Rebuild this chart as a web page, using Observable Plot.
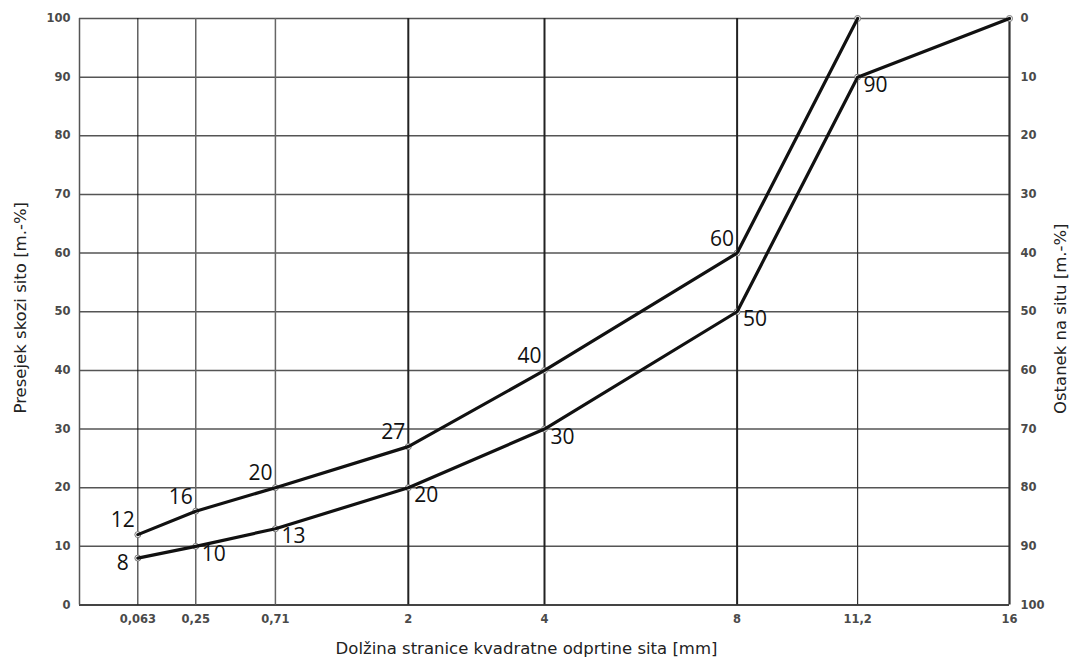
<!DOCTYPE html>
<html><head><meta charset="utf-8">
<script src="https://cdn.jsdelivr.net/npm/d3@7"></script>
<script src="https://cdn.jsdelivr.net/npm/@observablehq/plot@0.6"></script>
<style>body{margin:0;background:#fff}</style>
</head><body><div id="chart"></div>
<script>
// ---- data ----
const sieveSizes = [0.063, 0.25, 0.71, 2, 4, 8, 11.2, 16];
const sieveLabels = ["0,063", "0,25", "0,71", "2", "4", "8", "11,2", "16"];
const upperPassing = [12, 16, 20, 27, 40, 60, 100, 100];
const lowerPassing = [8, 10, 13, 20, 30, 50, 90, 100];
const percentTicks = [0, 10, 20, 30, 40, 50, 60, 70, 80, 90, 100];
const xTitle = "Dolžina stranice kvadratne odprtine sita [mm]";
const yTitleLeft = "Presejek skozi sito [m.-%]";
const yTitleRight = "Ostanek na situ [m.-%]";

// ---- styles ----
const gridWidth = [1, 1.5, 1.5, 2, 2, 2, 1.2, 2.2];
const gridColor = ["#111", "#666", "#666", "#222", "#222", "#222", "#333", "#333"];
const tickFont = {fontSize: 11.5, fontWeight: "bold", color: "#4a4a4a"};

const rows = sieveSizes.map((size, i) => ({size, i, upper: upperPassing[i], lower: lowerPassing[i]}));
// the upper curve stops where it first reaches 100 %
const upperCurve = rows.filter(d => d.i === 0 || upperPassing[d.i - 1] < 100);
const upperLabeled = rows.filter(d => d.upper < 100);
const lowerLabeled = rows.filter(d => d.lower < 100);

const chart = Plot.plot({
  width: 1070,
  height: 658,
  marginLeft: 79,
  marginRight: 61,
  marginTop: 18,
  marginBottom: 53.5,
  style: {fontFamily: "DejaVu Sans", background: "white"},
  x: {type: "sqrt", domain: [0, 16]},
  y: {domain: [0, 100]},
  color: {type: "identity"},
  marks: [
    Plot.ruleY(percentTicks, {stroke: "#555", strokeWidth: 1.5}),
    Plot.ruleY([0], {stroke: "#444", strokeWidth: 2}),
    Plot.ruleX([0], {stroke: "#555", strokeWidth: 1.5}),
    Plot.ruleX(rows, {x: "size", stroke: d => gridColor[d.i], strokeWidth: d => gridWidth[d.i]}),
    Plot.axisY(percentTicks, {anchor: "left", tickSize: 0, tickPadding: 9, label: null, ...tickFont}),
    Plot.axisY(percentTicks, {anchor: "right", tickSize: 0, tickPadding: 11, label: null, tickFormat: d => String(100 - d), ...tickFont}),
    Plot.axisX(sieveSizes, {anchor: "bottom", tickSize: 0, tickPadding: 10, label: null, tickFormat: d => sieveLabels[sieveSizes.indexOf(d)], ...tickFont}),
    Plot.dot(upperCurve, {x: "size", y: "upper", r: 3, fill: "white", stroke: "#777", strokeWidth: 1}),
    Plot.dot(rows, {x: "size", y: "lower", r: 3, fill: "white", stroke: "#777", strokeWidth: 1}),
    Plot.line(upperCurve, {x: "size", y: "upper", stroke: "#111", strokeWidth: 3.2, strokeLinejoin: "round"}),
    Plot.line(rows, {x: "size", y: "lower", stroke: "#111", strokeWidth: 3.2, strokeLinejoin: "round"}),
    Plot.text(upperLabeled, {x: "size", y: "upper", text: d => String(d.upper), textAnchor: "end", lineAnchor: "middle", dx: -3, dy: -14, fontSize: 21, fill: "#111", fontFamily: "Open Sans"}),
    Plot.text(lowerLabeled, {filter: d => d.i === 0, x: "size", y: "lower", text: d => String(d.lower), textAnchor: "end", lineAnchor: "middle", dx: -9, dy: 5, fontSize: 21, fill: "#111", fontFamily: "Open Sans"}),
    Plot.text(lowerLabeled, {filter: d => d.i > 0, x: "size", y: "lower", text: d => String(d.lower), textAnchor: "start", lineAnchor: "middle", dx: 6, dy: 8, fontSize: 21, fill: "#111", fontFamily: "Open Sans"}),
    Plot.text([xTitle], {frameAnchor: "bottom", text: d => d, textAnchor: "middle", lineAnchor: "middle", dx: -18, dy: 44, fontSize: 16.5, fill: "#222"}),
    Plot.text([yTitleLeft], {frameAnchor: "left", text: d => d, textAnchor: "middle", rotate: -90, lineAnchor: "middle", dx: -59, dy: -4, fontSize: 16.5, fill: "#222"}),
    Plot.text([yTitleRight], {frameAnchor: "right", text: d => d, textAnchor: "middle", rotate: -90, lineAnchor: "middle", dx: 51, dy: 7, fontSize: 16.5, fill: "#222"})
  ]
});
document.getElementById("chart").appendChild(chart);
</script>
</body></html>
